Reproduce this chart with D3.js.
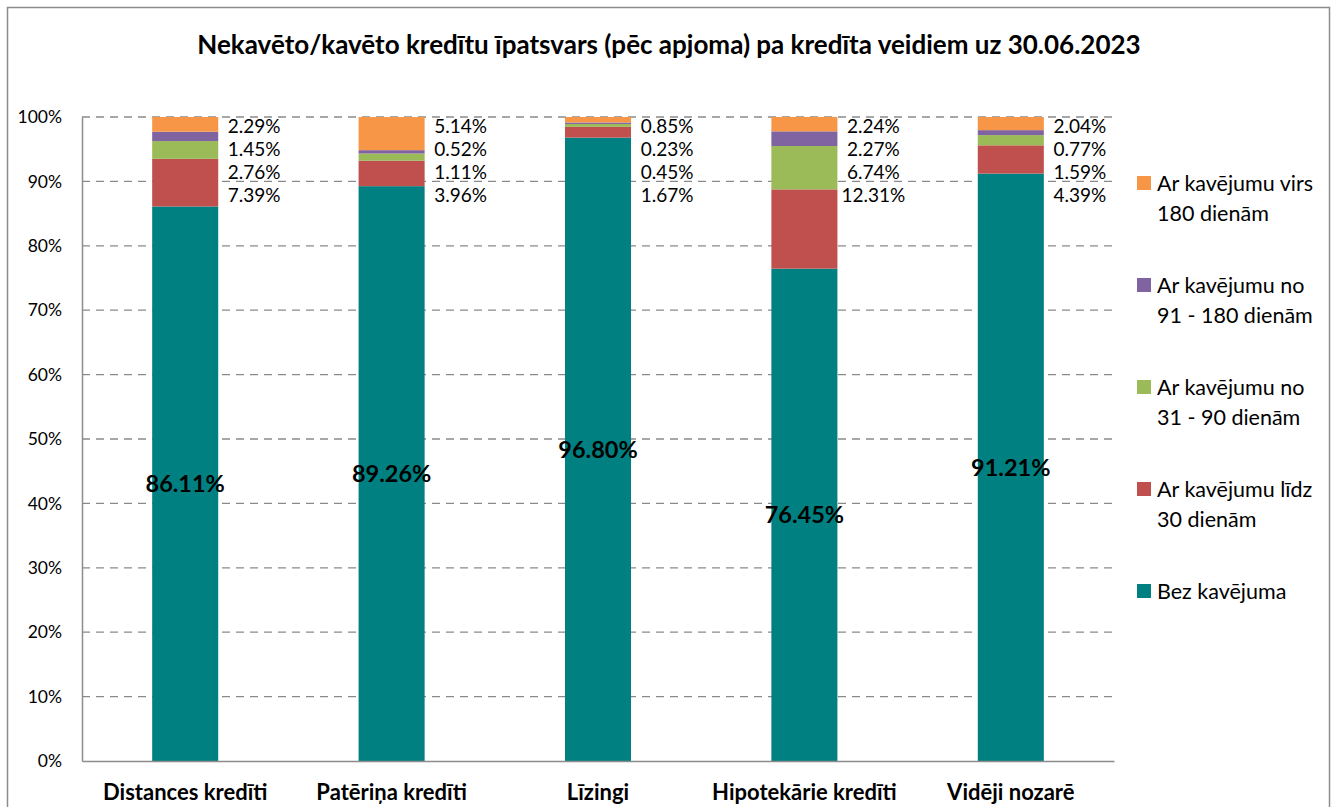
<!DOCTYPE html>
<html>
<head>
<meta charset="utf-8">
<script src="https://cdn.jsdelivr.net/npm/d3@7"></script>
<style>
  body { margin: 0; background: #fff; }
  svg { display: block; font-family: Lato, "Noto Sans", sans-serif; }
</style>
</head>
<body>
<div id="chart"></div>
<script>
let categories = ['Distances kredīti', 'Patēriņa kredīti', 'Līzingi', 'Hipotekārie kredīti', 'Vidēji nozarē'];
let seriesNames = ['Bez kavējuma', 'Ar kavējumu līdz 30 dienām', 'Ar kavējumu no 31 - 90 dienām',
    'Ar kavējumu no 91 - 180 dienām', 'Ar kavējumu virs 180 dienām'];
let legendLines = [
    ['Ar kavējumu virs', '180 dienām'],
    ['Ar kavējumu no', '91 - 180 dienām'],
    ['Ar kavējumu no', '31 - 90 dienām'],
    ['Ar kavējumu līdz', '30 dienām'],
    ['Bez kavējuma']
];
let bezKavejuma = [86.11, 89.26, 96.80, 76.45, 91.21];
let lidz30      = [7.39, 3.96, 1.67, 12.31, 4.39];
let no31lidz90  = [2.76, 1.11, 0.45, 6.74, 1.59];
let no91lidz180 = [1.45, 0.52, 0.23, 2.27, 0.77];
let virs180     = [2.29, 5.14, 0.85, 2.24, 2.04];
let yTicks = [0, 10, 20, 30, 40, 50, 60, 70, 80, 90, 100];
let colors = ['#008080', '#C0504D', '#9BBB59', '#8064A2', '#F79646'];

let width = 1333, height = 807;
let margin = { left: 82, right: 219, top: 117, bottom: 46 };

let svg = d3.select('#chart').append('svg')
    .attr('width', width)
    .attr('height', height);

// outer frame
svg.append('rect')
    .attr('x', 7.5).attr('y', 7.5)
    .attr('width', 1322).attr('height', 820)
    .attr('fill', 'none')
    .attr('stroke', '#8c8c8c')
    .attr('stroke-width', 1.5);

svg.append('text')
    .attr('x', 669)
    .attr('y', 54)
    .attr('text-anchor', 'middle')
    .attr('font-weight', 'bold')
    .attr('font-size', '26px')
    .text('Nekavēto/kavēto kredītu īpatsvars (pēc apjoma) pa kredīta veidiem uz 30.06.2023');

let rows = categories.map(function(c, i) {
    return { cat: c, s0: bezKavejuma[i], s1: lidz30[i], s2: no31lidz90[i], s3: no91lidz180[i], s4: virs180[i] };
});
let keys = ['s0', 's1', 's2', 's3', 's4'];
let stacked = d3.stack().keys(keys)(rows);

let xScale = d3.scaleBand()
    .domain(categories)
    .range([margin.left, width - margin.right])
    .paddingInner(0.68)
    .paddingOuter(0.34);

let yScale = d3.scaleLinear()
    .domain([0, 100])
    .range([height - margin.bottom, margin.top]);

// gridlines
svg.append('g')
    .selectAll('line')
    .data(yTicks.filter(d => d > 0))
    .enter()
    .append('line')
    .attr('x1', margin.left)
    .attr('x2', width - margin.right)
    .attr('y1', d => yScale(d))
    .attr('y2', d => yScale(d))
    .attr('stroke', '#8a8a8a')
    .attr('stroke-width', 1.3)
    .attr('stroke-dasharray', '8,6');

// y axis
let yAxis = d3.axisLeft(yScale)
    .tickValues(yTicks)
    .tickFormat(d => d + '%')
    .tickSize(0)
    .tickPadding(20);
let yg = svg.append('g')
    .attr('transform', 'translate(' + margin.left + ',0)')
    .call(yAxis);
yg.select('.domain').attr('stroke', '#8c8c8c').attr('stroke-width', 1.5);
yg.selectAll('text')
    .attr('font-family', 'Lato, sans-serif')
    .attr('font-size', '17.5px')
    .attr('fill', '#000');

// bars
svg.append('g')
    .selectAll('g')
    .data(stacked)
    .enter()
    .append('g')
    .attr('fill', (d, i) => colors[i])
    .selectAll('rect')
    .data(d => d)
    .enter()
    .append('rect')
    .attr('x', d => xScale(d.data.cat))
    .attr('y', d => yScale(d[1]))
    .attr('width', xScale.bandwidth())
    .attr('height', d => yScale(d[0]) - yScale(d[1]));

// x axis
let xAxis = d3.axisBottom(xScale).tickSize(0).tickPadding(23);
let xg = svg.append('g')
    .attr('transform', 'translate(0,' + (height - margin.bottom) + ')')
    .call(xAxis);
xg.select('.domain').attr('stroke', '#8c8c8c').attr('stroke-width', 1.5);
xg.selectAll('text')
    .attr('font-family', 'Lato, sans-serif')
    .attr('font-size', '22px')
    .attr('font-weight', 'bold')
    .attr('fill', '#000');

// big labels in the teal segment
svg.append('g')
    .selectAll('text')
    .data(stacked[0])
    .enter()
    .append('text')
    .attr('x', d => xScale(d.data.cat) + xScale.bandwidth() / 2)
    .attr('y', d => yScale((d[0] + d[1]) / 2))
    .attr('dy', '0.35em')
    .attr('text-anchor', 'middle')
    .attr('font-weight', 'bold')
    .attr('font-size', '23.5px')
    .text(d => d.data.s0.toFixed(2) + '%');

// small labels beside the bar, stacked from the top segment downward
let sideKeys = ['s4', 's3', 's2', 's1'];
rows.forEach(function(r) {
    sideKeys.forEach(function(k, j) {
        svg.append('text')
            .attr('x', xScale(r.cat) + xScale.bandwidth() + 36)
            .attr('y', yScale(100) + 9 + j * 23)
            .attr('dy', '0.35em')
            .attr('text-anchor', 'middle')
            .attr('font-size', '19px')
            .text(r[k].toFixed(2) + '%');
    });
});

// legend
let legend = svg.append('g')
    .attr('transform', 'translate(1137,0)');
legendLines.forEach(function(lines, i) {
    let y0 = 183 + i * 102;
    legend.append('rect')
        .attr('x', 0)
        .attr('y', y0 - 7)
        .attr('width', 14)
        .attr('height', 14)
        .attr('fill', colors[4 - i]);
    lines.forEach(function(t, j) {
        legend.append('text')
            .attr('x', 20)
            .attr('y', y0 + j * 30)
            .attr('dy', '0.35em')
            .attr('font-size', '21.5px')
            .text(t);
    });
});
</script>
</body>
</html>
